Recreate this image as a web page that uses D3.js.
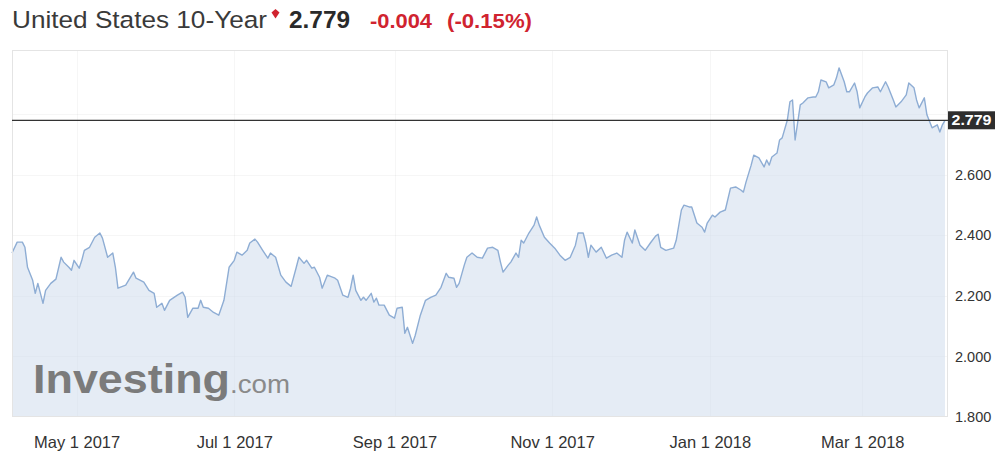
<!DOCTYPE html>
<html>
<head>
<meta charset="utf-8">
<script src="https://cdn.jsdelivr.net/npm/d3@7"></script>
<style>
  html, body { margin: 0; padding: 0; background: #fff; }
  svg { display: block; font-family: "Liberation Sans", Arial, Helvetica, sans-serif; }
</style>
</head>
<body>
<svg id="chart" width="995" height="456"></svg>
<script>
// ---- Quote header ----
const instrument = "United States 10-Year";
const lastPrice = 2.779;
const changeAbs = "-0.004";
const changePct = "(-0.15%)";

// ---- Axes ----
const xDomain = ["2017-04-06", "2018-04-02"];
const xTickDates = ["2017-05-01", "2017-07-01", "2017-09-01", "2017-11-01", "2018-01-01", "2018-03-01"];
const yDomain = [1.8, 3.0];
const yTickValues = [1.8, 2.0, 2.2, 2.4, 2.6];
const yGridValues = [2.0, 2.2, 2.4, 2.6, 2.8];

// ---- Yield series: [date, yield %] ----
const series = [
  ["2017-04-06", 2.341], ["2017-04-08", 2.377], ["2017-04-10", 2.377], ["2017-04-11", 2.360],
  ["2017-04-12", 2.294], ["2017-04-14", 2.251], ["2017-04-15", 2.208], ["2017-04-16", 2.241],
  ["2017-04-18", 2.175], ["2017-04-19", 2.218], ["2017-04-21", 2.241], ["2017-04-23", 2.255],
  ["2017-04-25", 2.327], ["2017-04-26", 2.311], ["2017-04-28", 2.294], ["2017-04-29", 2.284],
  ["2017-04-30", 2.317], ["2017-05-02", 2.291], ["2017-05-03", 2.317], ["2017-05-04", 2.350],
  ["2017-05-06", 2.360], ["2017-05-08", 2.393], ["2017-05-10", 2.407], ["2017-05-11", 2.390],
  ["2017-05-13", 2.327], ["2017-05-15", 2.341], ["2017-05-16", 2.294], ["2017-05-17", 2.225],
  ["2017-05-20", 2.235], ["2017-05-23", 2.278], ["2017-05-24", 2.258], ["2017-05-27", 2.245],
  ["2017-05-29", 2.218], ["2017-05-31", 2.208], ["2017-06-01", 2.162], ["2017-06-03", 2.175],
  ["2017-06-04", 2.152], ["2017-06-06", 2.185], ["2017-06-09", 2.202], ["2017-06-11", 2.212],
  ["2017-06-12", 2.195], ["2017-06-13", 2.129], ["2017-06-15", 2.159], ["2017-06-17", 2.159],
  ["2017-06-18", 2.185], ["2017-06-19", 2.162], ["2017-06-21", 2.159], ["2017-06-23", 2.145],
  ["2017-06-25", 2.136], ["2017-06-27", 2.185], ["2017-06-29", 2.294], ["2017-07-01", 2.317],
  ["2017-07-02", 2.344], ["2017-07-04", 2.334], ["2017-07-06", 2.350], ["2017-07-07", 2.374],
  ["2017-07-09", 2.387], ["2017-07-10", 2.377], ["2017-07-12", 2.350], ["2017-07-14", 2.324],
  ["2017-07-15", 2.341], ["2017-07-17", 2.327], ["2017-07-19", 2.268], ["2017-07-21", 2.245],
  ["2017-07-23", 2.231], ["2017-07-25", 2.294], ["2017-07-26", 2.327], ["2017-07-28", 2.307],
  ["2017-07-29", 2.317], ["2017-07-31", 2.291], ["2017-08-01", 2.294], ["2017-08-03", 2.261],
  ["2017-08-04", 2.225], ["2017-08-06", 2.268], ["2017-08-09", 2.258], ["2017-08-10", 2.251],
  ["2017-08-12", 2.202], ["2017-08-14", 2.195], ["2017-08-15", 2.225], ["2017-08-16", 2.268],
  ["2017-08-17", 2.218], ["2017-08-19", 2.185], ["2017-08-20", 2.195], ["2017-08-21", 2.185],
  ["2017-08-23", 2.208], ["2017-08-24", 2.179], ["2017-08-25", 2.192], ["2017-08-26", 2.169],
  ["2017-08-28", 2.169], ["2017-08-30", 2.136], ["2017-09-01", 2.126], ["2017-09-02", 2.159],
  ["2017-09-04", 2.162], ["2017-09-05", 2.076], ["2017-09-06", 2.096], ["2017-09-08", 2.043],
  ["2017-09-09", 2.069], ["2017-09-11", 2.136], ["2017-09-13", 2.185], ["2017-09-15", 2.195],
  ["2017-09-17", 2.202], ["2017-09-19", 2.228], ["2017-09-21", 2.274], ["2017-09-22", 2.261],
  ["2017-09-24", 2.258], ["2017-09-25", 2.228], ["2017-09-26", 2.241], ["2017-09-28", 2.301],
  ["2017-09-29", 2.327], ["2017-10-01", 2.341], ["2017-10-03", 2.327], ["2017-10-05", 2.324],
  ["2017-10-07", 2.357], ["2017-10-09", 2.360], ["2017-10-11", 2.350], ["2017-10-12", 2.311],
  ["2017-10-13", 2.278], ["2017-10-15", 2.301], ["2017-10-16", 2.311], ["2017-10-18", 2.341],
  ["2017-10-19", 2.327], ["2017-10-20", 2.383], ["2017-10-21", 2.374], ["2017-10-23", 2.407],
  ["2017-10-25", 2.433], ["2017-10-26", 2.460], ["2017-10-27", 2.433], ["2017-10-29", 2.393],
  ["2017-10-31", 2.374], ["2017-11-02", 2.357], ["2017-11-04", 2.334], ["2017-11-06", 2.317],
  ["2017-11-08", 2.327], ["2017-11-10", 2.367], ["2017-11-11", 2.407], ["2017-11-13", 2.407],
  ["2017-11-14", 2.374], ["2017-11-15", 2.327], ["2017-11-16", 2.367], ["2017-11-18", 2.344],
  ["2017-11-20", 2.360], ["2017-11-22", 2.324], ["2017-11-24", 2.334], ["2017-11-26", 2.341],
  ["2017-11-28", 2.327], ["2017-11-29", 2.383], ["2017-11-30", 2.410], ["2017-12-02", 2.374],
  ["2017-12-03", 2.417], ["2017-12-05", 2.367], ["2017-12-07", 2.350], ["2017-12-09", 2.374],
  ["2017-12-11", 2.397], ["2017-12-12", 2.403], ["2017-12-13", 2.360], ["2017-12-15", 2.350],
  ["2017-12-18", 2.357], ["2017-12-19", 2.383], ["2017-12-21", 2.483], ["2017-12-22", 2.499],
  ["2017-12-24", 2.493], ["2017-12-25", 2.493], ["2017-12-27", 2.440], ["2017-12-29", 2.426],
  ["2017-12-30", 2.410], ["2017-12-31", 2.440], ["2018-01-02", 2.466], ["2018-01-03", 2.460],
  ["2018-01-05", 2.476], ["2018-01-07", 2.483], ["2018-01-09", 2.555], ["2018-01-11", 2.559],
  ["2018-01-13", 2.549], ["2018-01-14", 2.542], ["2018-01-15", 2.575], ["2018-01-17", 2.631],
  ["2018-01-18", 2.664], ["2018-01-20", 2.655], ["2018-01-22", 2.625], ["2018-01-23", 2.648],
  ["2018-01-24", 2.631], ["2018-01-25", 2.658], ["2018-01-27", 2.671], ["2018-01-28", 2.714],
  ["2018-01-29", 2.721], ["2018-01-31", 2.780], ["2018-02-01", 2.840], ["2018-02-02", 2.846],
  ["2018-02-03", 2.714], ["2018-02-05", 2.830], ["2018-02-06", 2.836], ["2018-02-08", 2.853],
  ["2018-02-10", 2.856], ["2018-02-11", 2.856], ["2018-02-12", 2.873], ["2018-02-13", 2.912],
  ["2018-02-15", 2.906], ["2018-02-16", 2.886], ["2018-02-18", 2.896], ["2018-02-19", 2.919],
  ["2018-02-20", 2.952], ["2018-02-22", 2.906], ["2018-02-23", 2.873], ["2018-02-24", 2.873],
  ["2018-02-26", 2.902], ["2018-02-27", 2.873], ["2018-02-28", 2.820], ["2018-03-02", 2.856],
  ["2018-03-03", 2.869], ["2018-03-05", 2.886], ["2018-03-07", 2.889], ["2018-03-08", 2.873],
  ["2018-03-10", 2.906], ["2018-03-11", 2.889], ["2018-03-13", 2.846], ["2018-03-14", 2.823],
  ["2018-03-16", 2.840], ["2018-03-18", 2.863], ["2018-03-19", 2.902], ["2018-03-21", 2.886],
  ["2018-03-22", 2.846], ["2018-03-23", 2.820], ["2018-03-25", 2.853], ["2018-03-26", 2.797],
  ["2018-03-28", 2.754], ["2018-03-30", 2.764], ["2018-03-31", 2.740], ["2018-04-01", 2.764],
  ["2018-04-02", 2.779]
];

// ---- Layout & styling ----
const plot = { left: 12, right: 948, top: 50, bottom: 417 };
const lineEnd = 945;
const font = '"Liberation Sans", Arial, Helvetica, sans-serif';
const red = "#d0232f";

const parse = d3.utcParse("%Y-%m-%d");
const data = series.map(([d, v]) => ({ date: parse(d), value: v }));

const x = d3.scaleUtc()
  .domain(xDomain.map(parse))
  .range([plot.left, lineEnd]);

const y = d3.scaleLinear()
  .domain(yDomain)
  .range([plot.bottom, 53.3]);

const svg = d3.select("#chart");

// Header: instrument name, last price and daily change
const header = svg.append("g").attr("font-family", font);
header.append("text")
  .attr("x", 12).attr("y", 28)
  .attr("font-size", 24.5).attr("fill", "#3a3a3a")
  .attr("textLength", 255).attr("lengthAdjust", "spacingAndGlyphs")
  .text(instrument);
header.append("path")
  .attr("d", "M271.5,12.5 L275.5,9 L279.5,12.5 L275.5,18.5 Z")
  .attr("fill", red);
header.append("text")
  .attr("x", 289).attr("y", 28)
  .attr("font-size", 24).attr("font-weight", "bold").attr("fill", "#2a2a2a")
  .attr("textLength", 61).attr("lengthAdjust", "spacingAndGlyphs")
  .text(d3.format(".3f")(lastPrice));
header.append("text")
  .attr("x", 370).attr("y", 28)
  .attr("font-size", 19.5).attr("font-weight", "bold").attr("fill", red)
  .attr("textLength", 62).attr("lengthAdjust", "spacingAndGlyphs")
  .text(changeAbs);
header.append("text")
  .attr("x", 447).attr("y", 28)
  .attr("font-size", 19.5).attr("font-weight", "bold").attr("fill", red)
  .attr("textLength", 85).attr("lengthAdjust", "spacingAndGlyphs")
  .text(changePct);

// Plot background
svg.append("rect")
  .attr("x", plot.left).attr("y", plot.top)
  .attr("width", plot.right - plot.left).attr("height", plot.bottom - plot.top)
  .attr("fill", "#fff");

// Faint grid
const grid = svg.append("g").attr("stroke", "#000").attr("stroke-opacity", 0.035).attr("stroke-width", 1);
grid.selectAll("line.v").data(xTickDates.map(parse)).join("line")
  .attr("class", "v")
  .attr("x1", d => Math.round(x(d)) + 0.5).attr("x2", d => Math.round(x(d)) + 0.5)
  .attr("y1", plot.top).attr("y2", plot.bottom);
grid.selectAll("line.h").data(yGridValues).join("line")
  .attr("class", "h")
  .attr("x1", plot.left).attr("x2", plot.right)
  .attr("y1", d => Math.round(y(d)) + 0.5).attr("y2", d => Math.round(y(d)) + 0.5);

// Area under the yield line
const area = d3.area()
  .x(d => x(d.date))
  .y0(plot.bottom)
  .y1(d => y(d.value));
svg.append("path")
  .datum(data)
  .attr("d", area)
  .attr("fill", "#d3e0ee")
  .attr("fill-opacity", 0.6);

// Yield line
const line = d3.line()
  .x(d => x(d.date))
  .y(d => y(d.value));
svg.append("path")
  .datum(data)
  .attr("d", line)
  .attr("fill", "none")
  .attr("stroke", "#8eadd4")
  .attr("stroke-width", 1.4)
  .attr("stroke-linejoin", "round");

// Watermark
const mark = svg.append("text")
  .attr("x", 33).attr("y", 393)
  .attr("font-family", font)
  .attr("fill", "#7b7b7b");
mark.append("tspan")
  .attr("font-size", 41).attr("font-weight", "bold")
  .attr("textLength", 197).attr("lengthAdjust", "spacingAndGlyphs")
  .text("Investing");
mark.append("tspan")
  .attr("font-size", 25).attr("fill", "#8a8a8a")
  .attr("textLength", 60).attr("lengthAdjust", "spacingAndGlyphs")
  .text(".com");

// Plot frame
svg.append("rect")
  .attr("x", plot.left + 0.5).attr("y", plot.top + 0.5)
  .attr("width", plot.right - plot.left - 1).attr("height", plot.bottom - plot.top - 1)
  .attr("fill", "none")
  .attr("stroke", "#e4e4e4");

// Last-price line and tag
const yLast = y(lastPrice);
svg.append("line")
  .attr("x1", plot.left).attr("x2", plot.right)
  .attr("y1", yLast).attr("y2", yLast)
  .attr("stroke", "#333").attr("stroke-width", 1.2);
svg.append("rect")
  .attr("x", plot.right).attr("y", yLast - 9)
  .attr("width", 47).attr("height", 18)
  .attr("fill", "#2e2e2e");
svg.append("text")
  .attr("x", plot.right + 3.5).attr("y", yLast)
  .attr("dy", "0.36em")
  .attr("font-family", font).attr("font-size", 14).attr("font-weight", "bold")
  .attr("fill", "#fff")
  .attr("textLength", 40).attr("lengthAdjust", "spacingAndGlyphs")
  .text(d3.format(".3f")(lastPrice));

// Bottom date axis
const xAxis = d3.axisBottom(x)
  .tickValues(xTickDates.map(parse))
  .tickFormat(d3.utcFormat("%b %-d %Y"))
  .tickSize(0)
  .tickPadding(19);
svg.append("g")
  .attr("transform", `translate(0,${plot.bottom})`)
  .call(xAxis)
  .call(g => g.select(".domain").remove())
  .attr("font-family", font)
  .attr("font-size", 16.5)
  .style("color", "#333");

// Right yield axis
const yAxis = d3.axisRight(y)
  .tickValues(yTickValues)
  .tickFormat(d3.format(".3f"))
  .tickSize(0)
  .tickPadding(7);
svg.append("g")
  .attr("transform", `translate(${plot.right},0)`)
  .call(yAxis)
  .call(g => g.select(".domain").remove())
  .attr("font-family", font)
  .attr("font-size", 14.5)
  .style("color", "#333");
</script>
</body>
</html>
